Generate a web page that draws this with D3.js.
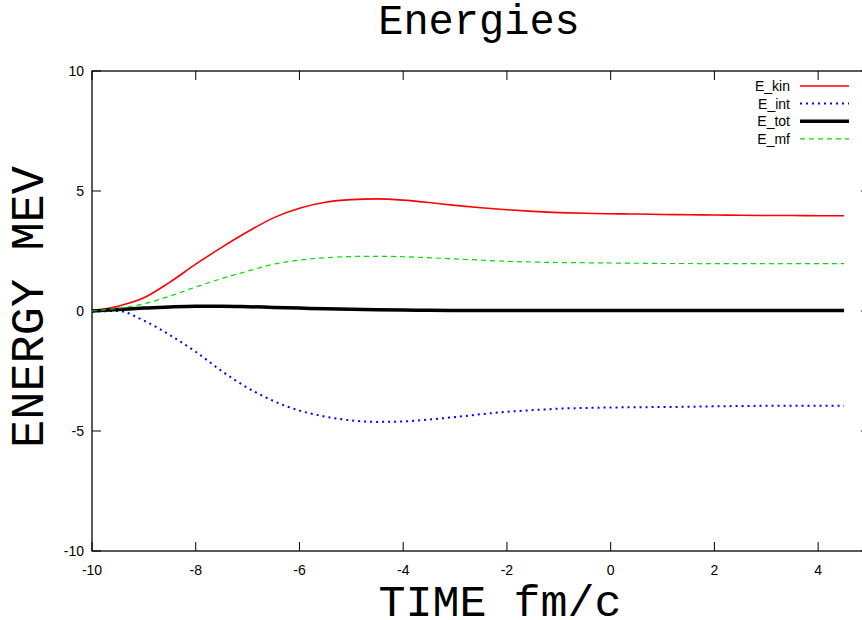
<!DOCTYPE html>
<html>
    <head>
        <script src="https://d3js.org/d3.v7.min.js"></script>
        <style>
            body { margin: 0; background: #fff; }
        </style>
    </head>
    <body>
        <svg width="862" height="620" id="chart"></svg>
        <script>
            // time axis (fm/c) and energies
            const time = [-10, -9.5, -9, -8.5, -8, -7.5, -7, -6.5, -6, -5.5, -5, -4.5, -4, -3.5, -3, -2.5, -2, -1.5, -1, -0.5, 0, 0.5, 1, 1.5, 2, 2.5, 3, 3.5, 4, 4.5];
            const eKin = [0, 0.2, 0.55, 1.2, 1.95, 2.65, 3.3, 3.88, 4.28, 4.53, 4.64, 4.67, 4.62, 4.52, 4.4, 4.3, 4.22, 4.15, 4.1, 4.07, 4.05, 4.04, 4.02, 4.01, 4.0, 3.99, 3.98, 3.98, 3.97, 3.97];
            const eInt = [-0.02, 0.0, -0.4, -1.0, -1.7, -2.5, -3.2, -3.75, -4.15, -4.4, -4.56, -4.62, -4.6, -4.52, -4.42, -4.3, -4.2, -4.13, -4.07, -4.04, -4.02, -4.01, -4.0, -3.99, -3.97, -3.96, -3.95, -3.95, -3.95, -3.95];
            const eTot = [0, 0.06, 0.12, 0.17, 0.2, 0.2, 0.18, 0.15, 0.12, 0.09, 0.07, 0.05, 0.04, 0.03, 0.02, 0.02, 0.02, 0.02, 0.02, 0.02, 0.02, 0.02, 0.02, 0.02, 0.02, 0.02, 0.02, 0.02, 0.02, 0.02];
            const eMf = [0, 0.12, 0.3, 0.62, 1.0, 1.35, 1.66, 1.95, 2.12, 2.22, 2.27, 2.28, 2.26, 2.22, 2.17, 2.12, 2.07, 2.04, 2.02, 2.01, 2.0, 1.99, 1.98, 1.98, 1.97, 1.97, 1.97, 1.97, 1.97, 1.97];

            const xTicks = [-10, -8, -6, -4, -2, 0, 2, 4];
            const yTicks = [-10, -5, 0, 5, 10];

            const series = [
                {name: "E_kin", values: eKin, color: "#ff0000", width: 1.6, dash: null},
                {name: "E_int", values: eInt, color: "#0000ff", width: 2, dash: "2,4"},
                {name: "E_tot", values: eTot, color: "#000000", width: 3.5, dash: null},
                {name: "E_mf", values: eMf, color: "#00dd00", width: 1.2, dash: "5,4"}
            ];

            let svg = d3.select("#chart");
            let pLeft = 92, pRight = 870, pTop = 71, pBottom = 551;

            let xScale = d3.scaleLinear().domain([-10, 5]).range([pLeft, pRight]);
            let yScale = d3.scaleLinear().domain([-10, 10]).range([pBottom, pTop]);

            // frame
            svg.append("rect")
                .attr("x", pLeft).attr("y", pTop)
                .attr("width", pRight - pLeft).attr("height", pBottom - pTop)
                .attr("fill", "none").attr("stroke", "#000").attr("stroke-width", 1.3);

            let tickFont = "'Liberation Sans', Arial, sans-serif";

            // x ticks (bottom and mirrored top)
            let xg = svg.append("g");
            xTicks.forEach(t => {
                let x = xScale(t);
                xg.append("line").attr("x1", x).attr("x2", x).attr("y1", pBottom).attr("y2", pBottom - 9).attr("stroke", "#000");
                xg.append("line").attr("x1", x).attr("x2", x).attr("y1", pTop).attr("y2", pTop + 9).attr("stroke", "#000");
                xg.append("text").attr("x", x).attr("y", pBottom + 24)
                    .attr("text-anchor", "middle").attr("font-family", tickFont).attr("font-size", 14)
                    .text(t);
            });

            let yg = svg.append("g");
            yTicks.forEach(t => {
                let y = yScale(t);
                yg.append("line").attr("x1", pLeft).attr("x2", pLeft + 9).attr("y1", y).attr("y2", y).attr("stroke", "#000");
                yg.append("line").attr("x1", pRight).attr("x2", pRight - 9).attr("y1", y).attr("y2", y).attr("stroke", "#000");
                yg.append("text").attr("x", pLeft - 8).attr("y", y + 5)
                    .attr("text-anchor", "end").attr("font-family", tickFont).attr("font-size", 14)
                    .text(t);
            });

            let line = d3.line()
                .x((d, i) => xScale(time[i]))
                .y(d => yScale(d))
                .curve(d3.curveMonotoneX);

            let lines = svg.append("g");
            series.forEach(s => {
                lines.append("path")
                    .attr("d", line(s.values))
                    .attr("fill", "none")
                    .attr("stroke", s.color)
                    .attr("stroke-width", s.width)
                    .attr("stroke-dasharray", s.dash);
            });

            // legend
            let legend = svg.append("g");
            series.forEach((s, i) => {
                let y = 86 + i * 17.6;
                legend.append("text").attr("x", 790).attr("y", y + 5)
                    .attr("text-anchor", "end").attr("font-family", tickFont).attr("font-size", 14)
                    .text(s.name);
                legend.append("line").attr("x1", 800).attr("x2", 849).attr("y1", y).attr("y2", y)
                    .attr("stroke", s.color).attr("stroke-width", s.width)
                    .attr("stroke-dasharray", s.dash);
            });

            let mono = "'Courier New', 'Nimbus Mono PS', FreeMono, 'Liberation Mono', monospace";
            svg.append("text").attr("x", 479).attr("y", 34)
                .attr("text-anchor", "middle").attr("font-family", mono).attr("font-size", 42)
                .text("Energies");
            svg.append("text").attr("x", 500).attr("y", 616)
                .attr("text-anchor", "middle").attr("font-family", mono).attr("font-size", 45)
                .text("TIME fm/c");
            svg.append("text")
                .attr("transform", "translate(43,307) rotate(-90)")
                .attr("text-anchor", "middle").attr("font-family", mono).attr("font-size", 47)
                .text("ENERGY MEV");
        </script>
    </body>
</html>
